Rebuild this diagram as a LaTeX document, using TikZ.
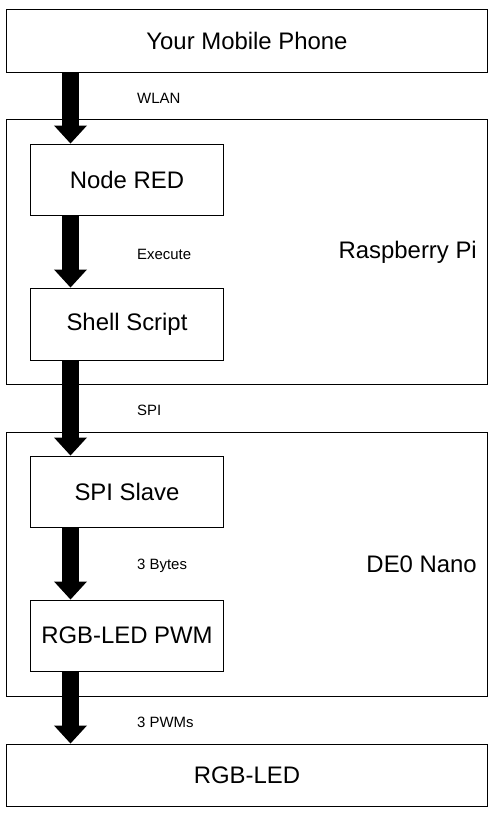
\documentclass[tikz,border=0pt]{standalone}
\usepackage{fontspec}
\setmainfont{Liberation Sans}
\usetikzlibrary{arrows.meta,positioning}
\begin{document}
\begin{tikzpicture}[x=1bp,y=-1bp,
  box/.style={draw=black,line width=1bp,fill=white,inner sep=0pt},
  bigtext/.style={font=\fontsize{24}{28}\selectfont},
  smalltext/.style={font=\fontsize{15}{18}\selectfont,anchor=west,inner sep=0pt},
  grouptext/.style={font=\fontsize{24}{28}\selectfont,anchor=east,inner sep=0pt},
  bigarrow/.style={line width=17bp,draw=black,-{Triangle[width=33bp,length=18bp,line width=0pt]}}]
\useasboundingbox (0,0) rectangle (494,816);
% outer group boxes
\node[box,minimum width=480bp,minimum height=264bp] (rpi) at (247,252) {};
\node[box,minimum width=480bp,minimum height=264bp] (de0) at (247,564) {};
% boxes
\node[box,bigtext,minimum width=480bp,minimum height=62bp] (phone) at (247,41) {Your Mobile Phone};
\node[box,bigtext,minimum width=192bp,minimum height=71bp] (nred) at (127,179.5) {Node RED};
\node[box,bigtext,minimum width=192bp,minimum height=72bp] (shell) at (127,324) {Shell Script};
\node[box,bigtext,minimum width=192bp,minimum height=71bp] (spis) at (127,491.5) {SPI Slave};
\node[box,bigtext,minimum width=192bp,minimum height=71bp] (pwm) at (127,635.5) {RGB-LED PWM};
\node[box,bigtext,minimum width=480bp,minimum height=62bp] (led) at (247,775) {RGB-LED};
% group labels
\node[grouptext] (rpil) at (477,252) {Raspberry Pi};
\node[grouptext] (de0l) at (477,564) {DE0 Nano};
% arrows
\draw[bigarrow] ([xshift=40bp]nred.north west |- phone.south) -- ([xshift=40bp]nred.north west);
\draw[bigarrow] ([xshift=40bp]nred.south west) -- ([xshift=40bp]shell.north west);
\draw[bigarrow] ([xshift=40bp]shell.south west) -- ([xshift=40bp]spis.north west);
\draw[bigarrow] ([xshift=40bp]spis.south west) -- ([xshift=40bp]pwm.north west);
\draw[bigarrow] ([xshift=40bp]pwm.south west) -- ([xshift=40bp]pwm.south west |- led.north);
% arrow labels
\node[smalltext] (l1) at (137,98) {WLAN};
\node[smalltext] (l2) at (137,254) {Execute};
\node[smalltext] (l3) at (137,410) {SPI};
\node[smalltext] (l4) at (137,566) {3 Bytes};
\node[smalltext] (l5) at (137,722) {3 PWMs};
\end{tikzpicture}
\end{document}
